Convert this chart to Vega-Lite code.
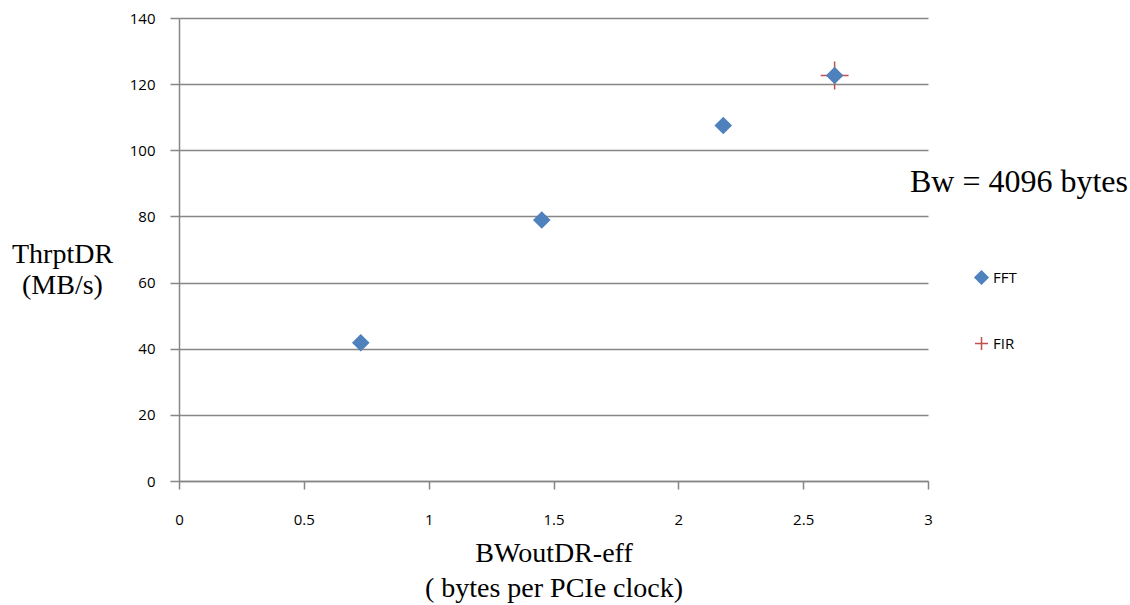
{
  "$schema": "https://vega.github.io/schema/vega-lite/v6.json",
  "width": 749,
  "height": 463,
  "autosize": {"type": "none"},
  "padding": {"left": 179, "top": 18, "right": 202, "bottom": 124},
  "background": "white",
  "title": {
    "text": "Bw = 4096 bytes",
    "orient": "top",
    "anchor": "end",
    "frame": "group",
    "font": "Liberation Serif",
    "fontSize": 32,
    "fontWeight": "normal",
    "color": "#000000",
    "dx": 200,
    "dy": 188,
    "offset": 0
  },
  "data": {
    "values": [
      {"series": "FFT", "bw": 0.728, "thr": 41.8},
      {"series": "FFT", "bw": 1.453, "thr": 78.9},
      {"series": "FFT", "bw": 2.18, "thr": 107.5},
      {"series": "FFT", "bw": 2.626, "thr": 122.6},
      {"series": "FIR", "bw": 2.626, "thr": 122.6}
    ]
  },
  "encoding": {
    "x": {
      "field": "bw",
      "type": "quantitative",
      "scale": {"domain": [0, 3], "nice": false, "zero": true},
      "axis": {
        "values": [0, 0.5, 1, 1.5, 2, 2.5, 3],
        "format": "~g",
        "grid": false,
        "domainColor": "#868686",
        "domainWidth": 1.5,
        "tickColor": "#868686",
        "tickWidth": 1.5,
        "tickSize": 8,
        "labelFont": "Open Sans",
        "labelFontSize": 15,
        "labelColor": "#000000",
        "labelPadding": 23,
        "labelFlush": false,
        "title": ["BWoutDR-eff", "( bytes per PCIe  clock)"],
        "titleFont": "Liberation Serif",
        "titleFontSize": 28,
        "titleFontWeight": "normal",
        "titleColor": "#000000",
        "titleLineHeight": 35,
        "titleBaseline": "top",
        "titleY": 58
      }
    },
    "y": {
      "field": "thr",
      "type": "quantitative",
      "scale": {"domain": [0, 140], "nice": false},
      "axis": {
        "values": [0, 20, 40, 60, 80, 100, 120, 140],
        "grid": true,
        "gridColor": "#868686",
        "gridWidth": 1.5,
        "domainColor": "#868686",
        "domainWidth": 1.5,
        "tickColor": "#868686",
        "tickWidth": 1.5,
        "tickSize": 9,
        "labelFont": "Open Sans",
        "labelFontSize": 15,
        "labelColor": "#000000",
        "labelPadding": 15,
        "title": ["ThrptDR", "(MB/s)"],
        "titleFont": "Liberation Serif",
        "titleFontSize": 28,
        "titleFontWeight": "normal",
        "titleColor": "#000000",
        "titleAngle": 0,
        "titleAlign": "center",
        "titleBaseline": "top",
        "titleLineHeight": 31,
        "titleX": -117,
        "titleY": 222
      }
    }
  },
  "layer": [
    {
      "transform": [{"filter": "datum.series === 'FIR'"}],
      "mark": {
        "type": "point",
        "filled": false,
        "shape": "M-1.8,0L1.8,0M0,-1.8L0,1.8",
        "size": 240,
        "stroke": "#C0504D",
        "strokeWidth": 1.5,
        "opacity": 1
      }
    },
    {
      "mark": {"type": "point", "filled": false, "strokeWidth": 1.5, "opacity": 1, "size": 240},
      "encoding": {
        "fill": {
          "field": "series",
          "type": "nominal",
          "scale": {"domain": ["FFT", "FIR"], "range": ["#4F81BD", "transparent"]},
          "legend": {
            "orient": "none",
            "legendX": 795,
            "legendY": 252,
            "title": null,
            "padding": 0,
            "symbolSize": 170,
            "symbolStrokeWidth": 1.5,
            "labelFont": "Open Sans",
            "labelFontSize": 15,
            "labelColor": "#000000",
            "labelOffset": 4,
            "rowPadding": 45
          }
        },
        "shape": {
          "field": "series",
          "type": "nominal",
          "scale": {"domain": ["FFT", "FIR"], "range": ["diamond", "M-1,0L1,0M0,-1L0,1"]}
        },
        "stroke": {
          "field": "series",
          "type": "nominal",
          "scale": {"domain": ["FFT", "FIR"], "range": ["#4F81BD", "#C0504D"]}
        },
        "order": {"field": "series", "sort": "descending"}
      }
    }
  ],
  "config": {
    "view": {"stroke": null}
  }
}
